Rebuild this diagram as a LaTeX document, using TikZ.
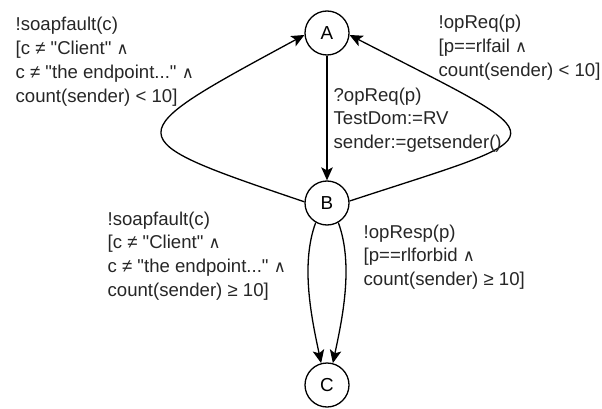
\documentclass[tikz,border=0pt]{standalone}
\usepackage{fontspec}
\newfontfamily\lbfont{Liberation Sans}
\newfontfamily\symfont{DejaVu Sans}
\usetikzlibrary{arrows.meta}
\newcommand{\wedgesym}{{\symfont\fontsize{16.5}{16.5}\selectfont ∧}}
\begin{document}
\begin{tikzpicture}[x=1pt,y=-1pt, line width=1.3pt,
  state/.style={circle, draw, minimum size=44pt, inner sep=0pt, font=\lbfont\fontsize{18.8}{23.8}\selectfont},
  lbl/.style={anchor=base west, align=left, inner sep=0pt, text=black!85, font=\lbfont\fontsize{18.6}{23.8}\selectfont},
  arr/.style={-{Stealth[length=13pt,width=11.5pt,inset=3pt]}}]
\useasboundingbox (0,0) rectangle (602,409);
\node[state] (A) at (327,33) {A};
\node[state] (B) at (327,203) {B};
\node[state] (C) at (327,385) {C};
\draw[arr] (A) -- (B);
\draw[arr] (B.177) .. controls (113,137) and (116,137) .. (A.185);
\draw[arr] (B.5) .. controls (563,131) and (563,145) .. (A.355);
\draw[arr] (B.240) .. controls (300,265) and (312,320) .. (C.105);
\draw[arr] (B.300) .. controls (354,265) and (342,320) .. (C.75);
\node[lbl] (tl) at (15,102.4) {!soapfault(c)\\ {[}c ≠ "Client" \wedgesym\\ c ≠ "the endpoint..." \wedgesym\\ count(sender) < 10]};
\node[lbl] (tr) at (438,76.6) {!opReq(p)\\ {[}p==rlfail \wedgesym\\ count(sender) < 10]};
\node[lbl] (m) at (333,148.6) {?opReq(p)\\ TestDom:=RV\\ sender:=getsender()};
\node[lbl] (ll) at (107,296.4) {!soapfault(c)\\ {[}c ≠ "Client" \wedgesym\\ c ≠ "the endpoint..." \wedgesym\\ count(sender) ≥ 10]};
\node[lbl] (lr) at (363,285.6) {!opResp(p)\\ {[}p==rlforbid \wedgesym\\ count(sender) ≥ 10]};
\end{tikzpicture}
\end{document}
